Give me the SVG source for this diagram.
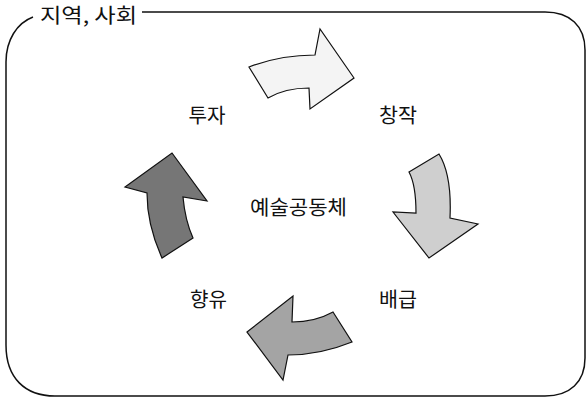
<svg xmlns="http://www.w3.org/2000/svg" width="586" height="399" viewBox="0 0 586 399">
<style>
.t{font-family:"Noto Sans CJK KR","Noto Sans",sans-serif;font-size:20px;fill:#111;text-anchor:middle}
.a{stroke:#111;stroke-width:1.2;stroke-linejoin:miter}
</style>
<rect width="586" height="399" fill="#fff"/>
<g id="frame">
<path d="M142,12 H545 C570,12 585,26 585,50 V358 C585,382 570,396 545,396 H55 C25,396 6,378 6,345 V62 C6,40 17,23 33,17" fill="none" stroke="#111" stroke-width="1.5"/>
<text class="t" x="88.5" y="23" textLength="97" lengthAdjust="spacingAndGlyphs">지역, 사회</text>
</g>
<g id="connectors">
<path id="arrow-top" class="a" fill="#f4f4f4" d="M249,67 Q280,55 315,55 L320,29 L354,78 L310,109 L309,88 Q285,88 268,98 Z"/>
<path id="arrow-right" class="a" fill="#cfcfcf" d="M409,172 L439,154 Q452,175 450,218 L478,224 L429,258 L393,212 L416,213 Q416,185 409,172 Z"/>
<path id="arrow-bottom" class="a" fill="#a4a4a4" d="M247,332 L293,296 L292,322 Q315,322 333,312 L352,342 Q320,355 288,355 L283,380 Z"/>
<path id="arrow-left" class="a" fill="#767676" d="M172,153 L207,201 L183,197 Q185,220 193,238 L162,258 Q147,225 147,193 L125,187 Z"/>
</g>
<g id="node-invest"><text class="t" x="207" y="123" textLength="37" lengthAdjust="spacingAndGlyphs">투자</text></g>
<g id="node-create"><text class="t" x="398" y="123" textLength="38" lengthAdjust="spacingAndGlyphs">창작</text></g>
<g id="node-center"><text class="t" x="298.5" y="215" textLength="97" lengthAdjust="spacingAndGlyphs">예술공동체</text></g>
<g id="node-enjoy"><text class="t" x="208.5" y="307" textLength="37" lengthAdjust="spacingAndGlyphs">향유</text></g>
<g id="node-distribute"><text class="t" x="398" y="307" textLength="38" lengthAdjust="spacingAndGlyphs">배급</text></g>
</svg>
